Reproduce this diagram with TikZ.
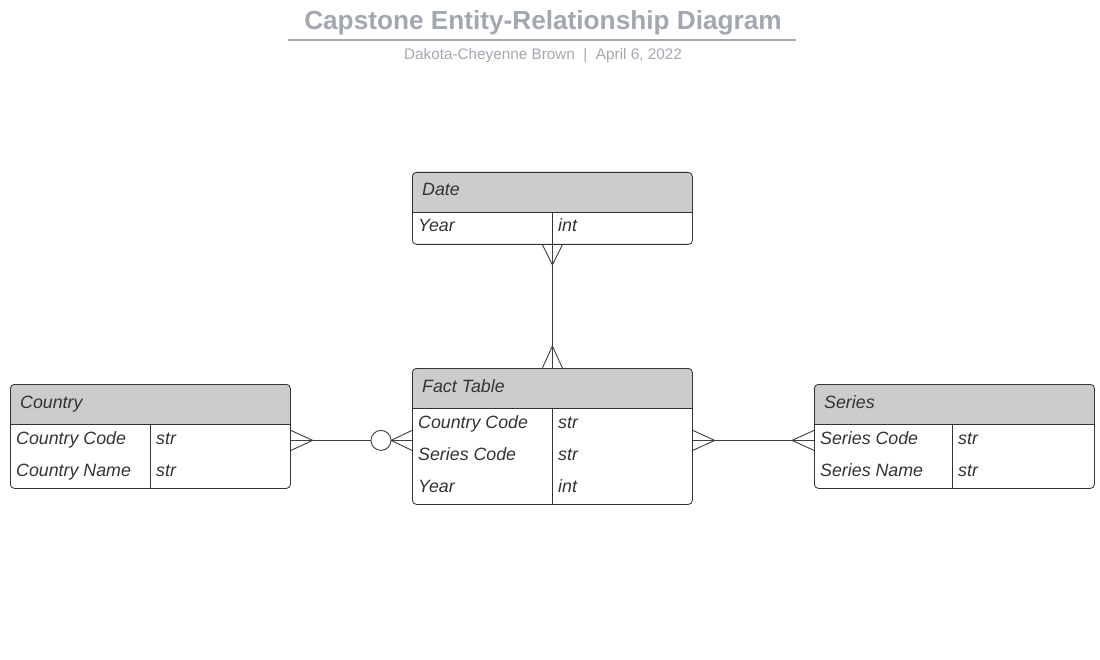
\documentclass[tikz,border=0pt]{standalone}
\usepackage{fontspec}
\setmainfont{Liberation Sans}
\usetikzlibrary{calc}
\definecolor{ttl}{HTML}{A3A8B0}
\definecolor{hdr}{HTML}{CCCCCC}
\definecolor{ink}{HTML}{333333}
\definecolor{edge}{HTML}{3A3F47}
\tikzset{
  ebox/.style={draw=ink, line width=0.8pt, rounded corners=4pt, anchor=north west, inner sep=0pt},
  etext/.style={anchor=base west, inner sep=0pt, text=ink, font=\fontsize{17.8}{20}\selectfont\itshape},
  conn/.style={draw=edge, line width=0.9pt},
}
\begin{document}
\begin{tikzpicture}[x=1pt,y=-1pt]
\fill[white] (0,0) rectangle (1100,660);
\useasboundingbox (0,0) rectangle (1100,660);
% title
\node[font=\fontsize{26.2}{28}\selectfont\bfseries, text=ttl, inner sep=0pt, anchor=base] (title) at (543,29.5) {Capstone Entity-Relationship Diagram};
\draw[ttl, line width=1.6pt] (288,40) -- (796,40);
\node[font=\fontsize{15.3}{18}\selectfont, text=ttl, inner sep=0pt, anchor=base] (sub) at (543,60) {Dakota-Cheyenne Brown\ \ |\ \ April 6, 2022};
% headers
\fill[hdr] (412,212) [rounded corners=4pt] -- (412,172) -- (692,172) [sharp corners] -- (692,212) -- cycle;
\fill[hdr] (412,408) [rounded corners=4pt] -- (412,368) -- (692,368) [sharp corners] -- (692,408) -- cycle;
\fill[hdr] (10,424) [rounded corners=4pt] -- (10,384) -- (290,384) [sharp corners] -- (290,424) -- cycle;
\fill[hdr] (814,424) [rounded corners=4pt] -- (814,384) -- (1094,384) [sharp corners] -- (1094,424) -- cycle;
% boxes
\node[ebox, minimum width=280pt, minimum height=72pt] (date) at (412,172) {};
\node[ebox, minimum width=280pt, minimum height=136pt] (fact) at (412,368) {};
\node[ebox, minimum width=280pt, minimum height=104pt] (country) at (10,384) {};
\node[ebox, minimum width=280pt, minimum height=104pt] (series) at (814,384) {};
% inner lines
\draw[ink, line width=0.8pt] (412,212) -- (692,212) (552,212) -- (552,244);
\draw[ink, line width=0.8pt] (412,408) -- (692,408) (552,408) -- (552,504);
\draw[ink, line width=0.8pt] (10,424) -- (290,424) (150,424) -- (150,488);
\draw[ink, line width=0.8pt] (814,424) -- (1094,424) (952,424) -- (952,488);
% texts
\node[etext] (dateh) at (422,196) {Date};
\node[etext] (d1) at (418,232) {Year};
\node[etext] (d1t) at (558,232) {int};
\node[etext] (facth) at (422,392) {Fact Table};
\node[etext] (f1) at (418,428) {Country Code};
\node[etext] (f1t) at (558,428) {str};
\node[etext] (f2) at (418,460) {Series Code};
\node[etext] (f2t) at (558,460) {str};
\node[etext] (f3) at (418,492) {Year};
\node[etext] (f3t) at (558,492) {int};
\node[etext] (counh) at (20,408) {Country};
\node[etext] (c1) at (16,444) {Country Code};
\node[etext] (c1t) at (156,444) {str};
\node[etext] (c2) at (16,476) {Country Name};
\node[etext] (c2t) at (156,476) {str};
\node[etext] (serh) at (824,408) {Series};
\node[etext] (s1) at (820,444) {Series Code};
\node[etext] (s1t) at (958,444) {str};
\node[etext] (s2) at (820,476) {Series Name};
\node[etext] (s2t) at (958,476) {str};
% connector anchors
\coordinate (ce) at ([yshift=-4pt]country.east);
\coordinate (fw) at ([yshift=-4pt]fact.west);
\coordinate (fe) at ([yshift=-4pt]fact.east);
\coordinate (sw) at ([yshift=-4pt]series.west);
\coordinate (ds) at (date.south);
\coordinate (fn) at (fact.north);
% country - fact
\draw[conn] (ce) -- (fw);
\draw[conn] ($(ce)+(0,-10)$) -- ($(ce)+(22,0)$) -- ($(ce)+(0,10)$);
\draw[conn] ($(fw)+(0,-10)$) -- ($(fw)+(-21,0)$) -- ($(fw)+(0,10)$);
\draw[conn, fill=white] ($(fw)+(-31,0)$) circle (10pt);
% fact - series
\draw[conn] (fe) -- (sw);
\draw[conn] ($(fe)+(0,-10)$) -- ($(fe)+(22,0)$) -- ($(fe)+(0,10)$);
\draw[conn] ($(sw)+(0,-10)$) -- ($(sw)+(-22,0)$) -- ($(sw)+(0,10)$);
% date - fact
\draw[conn] (ds) -- (fn);
\draw[conn] ($(ds)+(-10,0)$) -- ($(ds)+(0,20)$) -- ($(ds)+(10,0)$);
\draw[conn] ($(fn)+(-10,0)$) -- ($(fn)+(0,-22)$) -- ($(fn)+(10,0)$);
\end{tikzpicture}
\end{document}
